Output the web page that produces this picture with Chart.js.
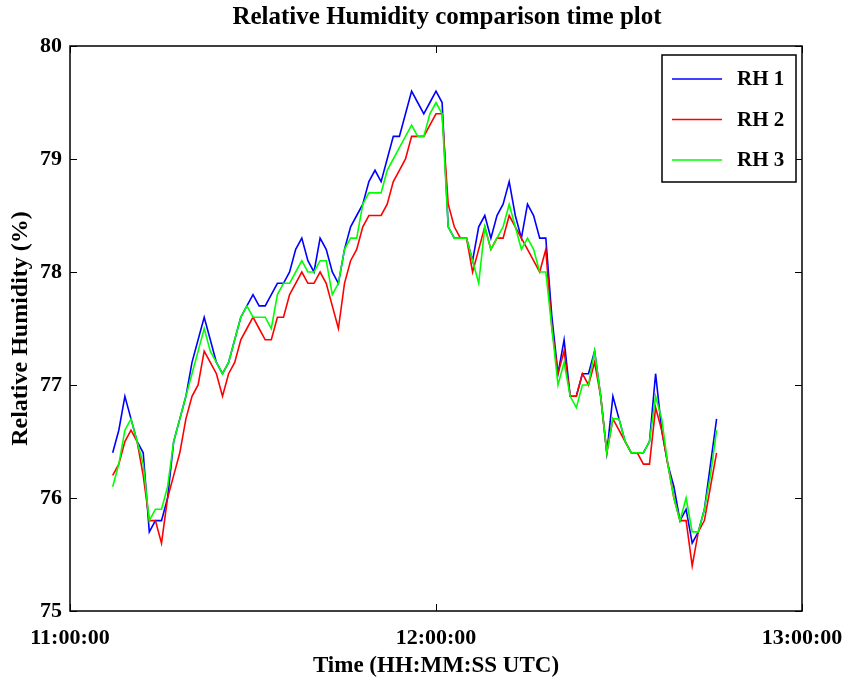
<!DOCTYPE html>
<html>
  <head>
    <meta charset="utf-8">
    <title>Relative Humidity comparison time plot</title>
    <script src="https://cdn.jsdelivr.net/npm/chart.js"></script>
    <style>
      html, body { margin: 0; padding: 0; background: #fff; }
      canvas { display: block; }
    </style>
  </head>
  <body>
    <canvas id="rhChart" width="847" height="682"></canvas>
    <script>
      // sample times, minutes after 11:00:00 UTC
      var minutes = [
        7, 8, 9, 10, 11, 12, 13, 14, 15, 16, 17, 18, 19, 20, 21, 22, 23, 24, 25, 26,
        27, 28, 29, 30, 31, 32, 33, 34, 35, 36, 37, 38, 39, 40, 41, 42, 43, 44, 45, 46,
        47, 48, 49, 50, 51, 52, 53, 54, 55, 56, 57, 58, 59, 60, 61, 62, 63, 64, 65, 66,
        67, 68, 69, 70, 71, 72, 73, 74, 75, 76, 77, 78, 79, 80, 81, 82, 83, 84, 85, 86,
        87, 88, 89, 90, 91, 92, 93, 94, 95, 96, 97, 98, 99, 100, 101, 102, 103, 104, 105, 106
      ];

      var rh1 = [
        76.4, 76.6, 76.9, 76.7, 76.5, 76.4, 75.7, 75.8, 75.8, 76.0,
        76.5, 76.7, 76.9, 77.2, 77.4, 77.6, 77.4, 77.2, 77.1, 77.2,
        77.4, 77.6, 77.7, 77.8, 77.7, 77.7, 77.8, 77.9, 77.9, 78.0,
        78.2, 78.3, 78.1, 78.0, 78.3, 78.2, 78.0, 77.9, 78.2, 78.4,
        78.5, 78.6, 78.8, 78.9, 78.8, 79.0, 79.2, 79.2, 79.4, 79.6,
        79.5, 79.4, 79.5, 79.6, 79.5, 78.4, 78.3, 78.3, 78.3, 78.1,
        78.4, 78.5, 78.3, 78.5, 78.6, 78.8, 78.5, 78.3, 78.6, 78.5,
        78.3, 78.3, 77.6, 77.1, 77.4, 76.9, 76.9, 77.1, 77.1, 77.3,
        76.9, 76.4, 76.9, 76.7, 76.5, 76.4, 76.4, 76.4, 76.5, 77.1,
        76.6, 76.3, 76.1, 75.8, 75.9, 75.6, 75.7, 75.9, 76.3, 76.7
      ];

      var rh2 = [
        76.2, 76.3, 76.5, 76.6, 76.5, 76.2, 75.8, 75.8, 75.6, 76.0,
        76.2, 76.4, 76.7, 76.9, 77.0, 77.3, 77.2, 77.1, 76.9, 77.1,
        77.2, 77.4, 77.5, 77.6, 77.5, 77.4, 77.4, 77.6, 77.6, 77.8,
        77.9, 78.0, 77.9, 77.9, 78.0, 77.9, 77.7, 77.5, 77.9, 78.1,
        78.2, 78.4, 78.5, 78.5, 78.5, 78.6, 78.8, 78.9, 79.0, 79.2,
        79.2, 79.2, 79.3, 79.4, 79.4, 78.6, 78.4, 78.3, 78.3, 78.0,
        78.2, 78.4, 78.2, 78.3, 78.3, 78.5, 78.4, 78.3, 78.2, 78.1,
        78.0, 78.2, 77.5, 77.1, 77.3, 76.9, 76.9, 77.1, 77.0, 77.2,
        76.9, 76.4, 76.7, 76.6, 76.5, 76.4, 76.4, 76.3, 76.3, 76.8,
        76.6, 76.3, 76.0, 75.8, 75.8, 75.4, 75.7, 75.8, 76.1, 76.4
      ];

      var rh3 = [
        76.1, 76.3, 76.6, 76.7, 76.5, 76.3, 75.8, 75.9, 75.9, 76.1,
        76.5, 76.7, 76.9, 77.1, 77.3, 77.5, 77.3, 77.2, 77.1, 77.2,
        77.4, 77.6, 77.7, 77.6, 77.6, 77.6, 77.5, 77.8, 77.9, 77.9,
        78.0, 78.1, 78.0, 78.0, 78.1, 78.1, 77.8, 77.9, 78.2, 78.3,
        78.3, 78.6, 78.7, 78.7, 78.7, 78.9, 79.0, 79.1, 79.2, 79.3,
        79.2, 79.2, 79.4, 79.5, 79.4, 78.4, 78.3, 78.3, 78.3, 78.1,
        77.9, 78.4, 78.2, 78.3, 78.4, 78.6, 78.4, 78.2, 78.3, 78.2,
        78.0, 78.0, 77.5, 77.0, 77.2, 76.9, 76.8, 77.0, 77.0, 77.3,
        76.9, 76.4, 76.7, 76.7, 76.5, 76.4, 76.4, 76.4, 76.5, 76.9,
        76.7, 76.3, 76.0, 75.8, 76.0, 75.7, 75.7, 75.9, 76.2, 76.6
      ];

      var seriesNames = ['RH 1', 'RH 2', 'RH 3'];
      var seriesColors = ['#0000ff', '#ff0000', '#00ff00'];
      var chartTitle = 'Relative Humidity comparison time plot';

      var SERIF = '"Liberation Serif", "DejaVu Serif", serif';

      function points(values) {
        return minutes.map(function (m, i) { return { x: m, y: values[i] }; });
      }

      function clock(v) {
        var h = 11 + Math.floor(v / 60);
        var m = v % 60;
        return h + ':' + (m < 10 ? '0' : '') + m + ':00';
      }

      // title over the whole figure, box around the axes, inward ticks, legend
      var frameAndLegend = {
        id: 'frameAndLegend',
        afterDraw: function (chart) {
          var ctx = chart.ctx;
          ctx.save();
          ctx.fillStyle = '#000';
          ctx.font = 'bold 25px ' + SERIF;
          ctx.textAlign = 'center';
          ctx.textBaseline = 'middle';
          ctx.fillText(chartTitle, 447, 18);
          ctx.restore();
        },
        afterDatasetsDraw: function (chart) {
          var ctx = chart.ctx;
          var a = chart.chartArea;
          var xs = chart.scales.x;
          var ys = chart.scales.y;
          ctx.save();
          ctx.strokeStyle = '#000';
          ctx.lineWidth = 1.5;
          ctx.strokeRect(a.left, a.top, a.right - a.left, a.bottom - a.top);

          ctx.lineWidth = 1;
          ctx.beginPath();
          ys.ticks.forEach(function (t) {
            var py = Math.round(ys.getPixelForValue(t.value)) + 0.5;
            ctx.moveTo(a.left, py); ctx.lineTo(a.left + 7, py);
            ctx.moveTo(a.right, py); ctx.lineTo(a.right - 7, py);
          });
          xs.ticks.forEach(function (t) {
            var px = Math.round(xs.getPixelForValue(t.value)) + 0.5;
            ctx.moveTo(px, a.bottom); ctx.lineTo(px, a.bottom - 7);
            ctx.moveTo(px, a.top); ctx.lineTo(px, a.top + 7);
          });
          ctx.stroke();

          // legend
          var bw = 134, bh = 127;
          var bx = a.right - 6 - bw;
          var by = a.top + 9;
          ctx.fillStyle = '#fff';
          ctx.fillRect(bx, by, bw, bh);
          ctx.lineWidth = 1.5;
          ctx.strokeRect(bx, by, bw, bh);
          ctx.font = 'bold 21px ' + SERIF;
          ctx.textBaseline = 'middle';
          ctx.textAlign = 'left';
          chart.data.datasets.forEach(function (ds, i) {
            var ly = by + 24 + i * 40.5;
            ctx.strokeStyle = ds.borderColor;
            ctx.lineWidth = 1.5;
            ctx.beginPath();
            ctx.moveTo(bx + 10, ly);
            ctx.lineTo(bx + 60, ly);
            ctx.stroke();
            ctx.fillStyle = '#000';
            ctx.fillText(ds.label, bx + 75, ly + 1);
          });
          ctx.restore();
        }
      };

      var datasets = [rh1, rh2, rh3].map(function (values, i) {
        return {
          label: seriesNames[i],
          data: points(values),
          borderColor: seriesColors[i],
          backgroundColor: seriesColors[i],
          borderWidth: 1.6,
          pointRadius: 0,
          tension: 0,
          fill: false,
          order: 3 - i
        };
      });

      new Chart(document.getElementById('rhChart'), {
        type: 'line',
        data: { datasets: datasets },
        options: {
          responsive: false,
          animation: false,
          events: [],
          layout: { padding: { left: 0, right: 45, top: 46, bottom: 0 } },
          plugins: {
            legend: { display: false },
            tooltip: { enabled: false },
            title: { display: false }
          },
          scales: {
            x: {
              type: 'linear',
              min: 0,
              max: 120,
              grid: { display: false, drawTicks: false },
              border: { display: false },
              ticks: {
                stepSize: 60,
                maxRotation: 0,
                autoSkip: false,
                padding: 14,
                color: '#000',
                font: { family: SERIF, size: 22, weight: 'bold' },
                callback: function (v) { return clock(v); }
              },
              title: {
                display: true,
                text: 'Time (HH:MM:SS UTC)',
                color: '#000',
                font: { family: SERIF, size: 23, weight: 'bold' },
                padding: { top: 0, bottom: 2 }
              },
              afterFit: function (scale) {
                scale.height = 71;
                scale.paddingLeft = 0;
                scale.paddingRight = 0;
              }
            },
            y: {
              min: 75,
              max: 80,
              grid: { display: false, drawTicks: false },
              border: { display: false },
              ticks: {
                stepSize: 1,
                padding: 8,
                color: '#000',
                font: { family: SERIF, size: 22, weight: 'bold' }
              },
              title: {
                display: true,
                text: 'Relative Humidity (%)',
                color: '#000',
                font: { family: SERIF, size: 24, weight: 'bold' },
                padding: { top: 6, bottom: 0 }
              },
              afterFit: function (scale) {
                scale.width = 70;
                scale.paddingTop = 0;
                scale.paddingBottom = 0;
              }
            }
          }
        },
        plugins: [frameAndLegend]
      });
    </script>
  </body>
</html>
